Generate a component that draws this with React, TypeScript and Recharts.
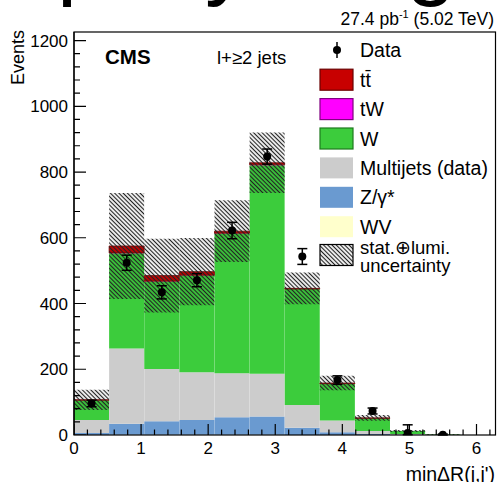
import { ComposedChart, Bar, Line, XAxis, YAxis, ErrorBar, Scatter } from 'recharts'

// minΔR(j,j') in 12 bins of width π/6, l+≥2 jets selection
const bins = ['1', '2', '3', '4', '5', '6', '7', '8', '9', '10', '11', '12']
const BIN_WIDTH = Math.PI / 6

// expected yields per bin (stacked, bottom to top)
const wv = [0, 1, 1, 1, 1, 1, 0, 0, 0, 0, 0, 0]
const zGamma = [6, 33, 41, 45, 53, 55, 22, 8, 3, 1, 0, 0]
const multijets = [40, 229, 159, 145, 134, 130, 69, 36, 9, 2, 1, 0]
const wJets = [60, 290, 266, 294, 425, 635, 353, 112, 39, 9, 1, 0]
const tW = [0, 1, 1, 1, 1, 1, 0, 0, 0, 0, 0, 0]
const ttbar = [1, 21, 17, 11, 6, 6, 2, 2, 1, 0, 0, 0]
const uncert = [31, 161, 112, 102, 94, 92, 48, 22, 9, 3, 1, 0]

// observed
const dataEvents = [96, 524, 434, 471, 622, 847, 543, 167, 73, 6, 1, null]
const dataErrLo = [10, 23, 20, 20, 25, 23, 24, 13, 9, 5, 1, null]
const dataErrHi = [10, 23, 20, 20, 25, 23, 24, 13, 9, 25, 2, null]

const yTicks = Array.from({ length: 31 }, (_, i) => i * 40)
const xTicks = Array.from({ length: 32 }, (_, i) => +(i * 0.2).toFixed(1))
const X_MAX = 2 * Math.PI
const Y_MAX = 1226

const legendNames = ['tt\u0304', 'tW', 'W', 'Multijets (data)', 'Z/\u03b3*', 'WV']
const legendColors = ['#c80000', '#ff00ff', '#3ccc3c', '#cccccc', '#6a9ad0', '#ffffcc']
const legendBorders = ['#6a0000', '#800080', '#1d7a1d', 'none', 'none', 'none']

const FONT = '"Liberation Sans", Arial, Helvetica, sans-serif'
const PLOT_LEFT = 74
const PLOT_W = 421.5
const PLOT_H = 403

const isMajorX = (v: number) => Math.abs(v - Math.round(v)) < 1e-6
const isMajorY = (v: number) => v % 200 === 0

const rows = bins.map((bin, i) => {
  const total = wv[i] + zGamma[i] + multijets[i] + wJets[i] + tW[i] + ttbar[i]
  return {
    bin,
    xc: (i + 0.5) * BIN_WIDTH,
    wv: wv[i],
    z: zGamma[i],
    mj: multijets[i],
    w: wJets[i],
    tw: tW[i],
    tt: ttbar[i],
    band: [Math.max(0, total - uncert[i]), total + uncert[i]],
    data: dataEvents[i],
    err: dataEvents[i] == null ? null : [dataErrLo[i], dataErrHi[i]],
  }
})

// inward ROOT-style tick marks, drawn as a series so they sit over the histograms
const xTickMarks = xTicks.map((t) => ({ xc: t, v: 0, len: isMajorX(t) ? 11 : 5.5, dir: 'x' }))
const yTickMarks = yTicks.map((t) => ({ xc: 0, v: t, len: isMajorY(t) ? 12 : 6, dir: 'y' }))

const TickMark = (p: any) => {
  const d = p.payload ?? p
  if (p.cx == null || p.cy == null) return <g />
  if (d.dir === 'x') {
    return <line x1={p.cx} x2={p.cx} y1={p.cy} y2={p.cy - d.len} stroke="#000" strokeWidth={1.2} />
  }
  return <line x1={p.cx} x2={p.cx + d.len} y1={p.cy} y2={p.cy} stroke="#000" strokeWidth={1.2} />
}

const YTick = (props: any) => {
  const { y, payload } = props
  const v = payload.value
  if (!isMajorY(v)) return <g />
  return (
    <text x={68} y={y} dy={6} textAnchor="end" fontSize={17} fontFamily={FONT} fill="#000">
      {v}
    </text>
  )
}

const XTick = (props: any) => {
  const { x, payload } = props
  const v = payload.value
  if (!isMajorX(v)) return <g />
  return (
    <text x={x} y={454} textAnchor="middle" fontSize={17} fontFamily={FONT} fill="#000">
      {Math.round(v)}
    </text>
  )
}

const DataDot = (p: any) => {
  if (p.value == null || p.cy == null) return <g key={p.index} />
  return <circle key={p.index} cx={p.cx} cy={p.cy} r={4} fill="#000" />
}

function Overlay() {
  const rowY = (i: number) => 79.7 + i * 29.4
  return (
    <svg
      width={497}
      height={482}
      style={{ position: 'absolute', left: 0, top: 0, pointerEvents: 'none' }}
      fontFamily={FONT}
    >
      <defs>
        <pattern id="hatchLeg" patternUnits="userSpaceOnUse" width={3} height={3} patternTransform="rotate(45)">
          <line x1={0} y1={1.5} x2={3} y2={1.5} stroke="#222" strokeWidth={1.2} />
        </pattern>
      </defs>
      {/* cut-off slide title */}
      <text x={57} y={-12} fontSize={90} fill="#000">p</text>
      <text x={205} y={-12} fontSize={90} fill="#000">y</text>
      <text x={406} y={-12} fontSize={90} fill="#000">g</text>

      <text x={494} y={25} textAnchor="end" fontSize={17.5} fill="#000">
        27.4 pb<tspan dy={-7} fontSize={11}>-1</tspan>
        <tspan dy={7}> (5.02 TeV)</tspan>
      </text>

      <rect x={PLOT_LEFT} y={32} width={PLOT_W} height={PLOT_H} fill="none" stroke="#000" strokeWidth={1.2} />

      <text transform="translate(24,30) rotate(-90)" textAnchor="end" fontSize={18} fill="#000">Events</text>
      <text x={495} y={481} textAnchor="end" fontSize={19.5} fill="#000">minΔR(j,j')</text>

      <text x={105} y={64} fontSize={20.5} fontWeight="bold" fill="#000">CMS</text>
      <text x={217} y={64} fontSize={18.5} fill="#000">l+≥2 jets</text>

      {/* legend */}
      <line x1={337} x2={337} y1={42} y2={58} stroke="#000" strokeWidth={1.5} />
      <circle cx={337} cy={50} r={4} fill="#000" />
      <text x={360} y={57} fontSize={19.5} fill="#000">Data</text>
      {legendNames.map((name, i) => (
        <g key={name}>
          <rect
            x={320}
            y={rowY(i) - 10.5}
            width={33}
            height={21}
            fill={legendColors[i]}
            stroke={legendBorders[i]}
            strokeWidth={legendBorders[i] === 'none' ? 0 : 1.2}
          />
          <text x={360} y={rowY(i) + 7} fontSize={19.5} fill="#000">{name}</text>
        </g>
      ))}
      <rect x={320} y={255 - 10.5} width={33} height={21} fill="url(#hatchLeg)" stroke="#000" strokeWidth={1.2} />
      <text x={360} y={254} fontSize={18.5} fill="#000">stat.⊕lumi.</text>
      <text x={360} y={272} fontSize={18.5} fill="#000">uncertainty</text>
    </svg>
  )
}

export default function App() {
  return (
    <div style={{ position: 'absolute', left: 0, top: 0, width: 497, height: 482, overflow: 'hidden', background: '#fff' }}>
      <ComposedChart
        width={497}
        height={482}
        data={rows}
        margin={{ top: 32, right: 1.5, bottom: 0, left: 0 }}
        barCategoryGap={0}
        barGap={0}
      >
        <defs>
          <pattern id="hatch" patternUnits="userSpaceOnUse" width={3} height={3} patternTransform="rotate(45)">
            <line x1={0} y1={1.5} x2={3} y2={1.5} stroke="#222" strokeWidth={1.2} />
          </pattern>
        </defs>
        <XAxis xAxisId="cat" dataKey="bin" hide />
        <XAxis xAxisId="band" dataKey="bin" hide />
        <XAxis
          xAxisId="num"
          dataKey="xc"
          type="number"
          domain={[0, X_MAX]}
          ticks={xTicks}
          interval={0}
          height={47}
          tickLine={false}
          axisLine={{ stroke: '#000', strokeWidth: 1.2 }}
          tick={<XTick />}
          allowDataOverflow
        />
        <YAxis
          type="number"
          domain={[0, Y_MAX]}
          ticks={yTicks}
          interval={0}
          width={74}
          tickLine={false}
          axisLine={{ stroke: '#000', strokeWidth: 1.2 }}
          tick={<YTick />}
          allowDataOverflow
        />
        <Bar xAxisId="cat" dataKey="wv" stackId="mc" fill="#ffffcc" isAnimationActive={false} />
        <Bar xAxisId="cat" dataKey="z" stackId="mc" fill="#6a9ad0" isAnimationActive={false} />
        <Bar xAxisId="cat" dataKey="mj" stackId="mc" fill="#cccccc" isAnimationActive={false} />
        <Bar xAxisId="cat" dataKey="w" stackId="mc" fill="#3ccc3c" isAnimationActive={false} />
        <Bar xAxisId="cat" dataKey="tw" stackId="mc" fill="#ff00ff" isAnimationActive={false} />
        <Bar xAxisId="cat" dataKey="tt" stackId="mc" fill="#c80000" stroke="#7a0000" strokeWidth={0.8} isAnimationActive={false} />
        <Bar xAxisId="band" dataKey="band" fill="url(#hatch)" isAnimationActive={false} />
        <Line
          xAxisId="cat"
          dataKey="data"
          stroke="none"
          dot={DataDot}
          activeDot={false}
          isAnimationActive={false}
        >
          <ErrorBar dataKey="err" width={5} strokeWidth={1.5} stroke="#000" direction="y" />
        </Line>
        <Scatter xAxisId="num" data={xTickMarks} dataKey="v" shape={TickMark} isAnimationActive={false} legendType="none" />
        <Scatter xAxisId="num" data={yTickMarks} dataKey="v" shape={TickMark} isAnimationActive={false} legendType="none" />
      </ComposedChart>
      <Overlay />
    </div>
  )
}
